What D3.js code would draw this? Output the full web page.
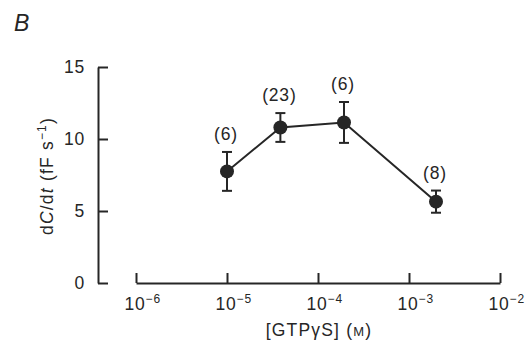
<!DOCTYPE html>
<html>
<head>
<meta charset="utf-8">
<script src="https://cdn.jsdelivr.net/npm/d3@7"></script>
<style>
  body { margin: 0; background: #fff; }
  svg { font-family: "Liberation Sans", Arial, Helvetica, sans-serif; }
</style>
</head>
<body>
<svg id="chart" width="528" height="344"></svg>
<script>
// GTPgS concentration (M) and mean dC/dt (fF/s) with SEM, n per point
const concentrations = [1e-5, 3.86e-5, 1.93e-4, 1.98e-3];
const rates = [7.75, 10.8, 11.15, 5.65];
const sems = [1.35, 1.0, 1.42, 0.77];
const nLabels = ["(6)", "(23)", "(6)", "(8)"];
const xTickValues = [1e-6, 1e-5, 1e-4, 1e-3, 1e-2];
const xTickExponents = ["−6", "−5", "−4", "−3", "−2"];
const yTickValues = [0, 5, 10, 15];

const ink = "#262626";
const fontSize = "17.5px";
const spacing = "0.8px";
const svg = d3.select("#chart");

// scales
const xScale = d3.scaleLog()
                 .domain([1e-6, 1e-2])
                 .range([136, 500]);
const yScale = d3.scaleLinear()
                 .domain([0, 15])
                 .range([283, 67]);

// Y axis (ticks pointing inward)
const yAxis = d3.axisLeft(yScale)
                .tickValues(yTickValues)
                .tickSizeInner(-10)
                .tickSizeOuter(0)
                .tickPadding(13)
                .tickFormat(d3.format("d"));
const yAxisG = svg.append("g")
                  .attr("transform", "translate(98,0)")
                  .call(yAxis);
yAxisG.select(".domain").attr("stroke", ink).attr("stroke-width", 2);
yAxisG.selectAll(".tick line").attr("stroke", ink).attr("stroke-width", 2);
yAxisG.selectAll(".tick text")
      .attr("fill", ink)
      .style("font-size", fontSize)
      .style("letter-spacing", spacing);

// X axis (detached, ticks pointing up)
const xAxis = d3.axisBottom(xScale)
                .tickValues(xTickValues)
                .tickSizeInner(-10)
                .tickSizeOuter(0)
                .tickFormat("");
const xAxisG = svg.append("g")
                  .attr("transform", "translate(0,283)")
                  .call(xAxis);
xAxisG.select(".domain").attr("stroke", ink).attr("stroke-width", 2);
xAxisG.selectAll(".tick line").attr("stroke", ink).attr("stroke-width", 2);

// tick labels as 10 with superscript exponent
xAxisG.selectAll(".tick").each(function(d, i) {
  const t = d3.select(this).select("text")
              .attr("y", 27)
              .attr("dy", 0)
              .attr("x", -12)
              .attr("text-anchor", "start")
              .attr("fill", ink)
              .style("font-size", fontSize)
              .style("letter-spacing", spacing);
  t.append("tspan").text("10");
  t.append("tspan")
   .attr("dy", -7)
   .style("font-size", "12px")
   .text(xTickExponents[i]);
});

// data
const data = concentrations.map(function(c, i) {
  return { x: c, y: rates[i], se: sems[i], n: nLabels[i] };
});

// connecting line
svg.append("path")
   .datum(data)
   .attr("fill", "none")
   .attr("stroke", ink)
   .attr("stroke-width", 2)
   .attr("d", d3.line()
                .x(function(d) { return xScale(d.x); })
                .y(function(d) { return yScale(d.y); }));

// error bars
const bars = svg.selectAll(".err")
                .data(data)
                .join("g")
                  .attr("class", "err")
                  .attr("stroke", ink)
                  .attr("stroke-width", 2);
bars.append("line")
    .attr("x1", function(d) { return xScale(d.x); })
    .attr("x2", function(d) { return xScale(d.x); })
    .attr("y1", function(d) { return yScale(d.y + d.se); })
    .attr("y2", function(d) { return yScale(d.y - d.se); });
bars.append("line")
    .attr("x1", function(d) { return xScale(d.x) - 5; })
    .attr("x2", function(d) { return xScale(d.x) + 5; })
    .attr("y1", function(d) { return yScale(d.y + d.se); })
    .attr("y2", function(d) { return yScale(d.y + d.se); });
bars.append("line")
    .attr("x1", function(d) { return xScale(d.x) - 5; })
    .attr("x2", function(d) { return xScale(d.x) + 5; })
    .attr("y1", function(d) { return yScale(d.y - d.se); })
    .attr("y2", function(d) { return yScale(d.y - d.se); });

// markers
svg.selectAll(".dot")
   .data(data)
   .join("circle")
     .attr("class", "dot")
     .attr("cx", function(d) { return xScale(d.x); })
     .attr("cy", function(d) { return yScale(d.y); })
     .attr("r", 7)
     .attr("fill", ink);

// n labels
svg.selectAll(".nlab")
   .data(data)
   .join("text")
     .attr("class", "nlab")
     .attr("x", function(d) { return xScale(d.x) - 1; })
     .attr("y", function(d) { return yScale(d.y + d.se) - 12; })
     .attr("text-anchor", "middle")
     .attr("fill", ink)
     .style("font-size", fontSize)
     .style("letter-spacing", spacing)
     .text(function(d) { return d.n; });

// panel letter
svg.append("text")
   .attr("x", 14)
   .attr("y", 31)
   .attr("fill", ink)
   .style("font-size", "23px")
   .style("font-style", "italic")
   .text("B");

// Y title
const yTitle = svg.append("text")
                  .attr("transform", "translate(53,176) rotate(-90)")
                  .attr("text-anchor", "middle")
                  .attr("fill", ink)
                  .style("font-size", fontSize)
                  .style("letter-spacing", "1.2px");
yTitle.append("tspan").text("d");
yTitle.append("tspan").style("font-style", "italic").text("C");
yTitle.append("tspan").text("/d");
yTitle.append("tspan").style("font-style", "italic").text("t");
yTitle.append("tspan").text(" (fF s");
yTitle.append("tspan").attr("dy", -7).style("font-size", "12px").text("−1");
yTitle.append("tspan").attr("dy", 7).text(")");

// X title
const xTitle = svg.append("text")
                  .attr("x", 319)
                  .attr("y", 336)
                  .attr("text-anchor", "middle")
                  .attr("fill", ink)
                  .style("font-size", fontSize)
                  .style("letter-spacing", "1.2px");
xTitle.append("tspan").text("[GTP");
xTitle.append("tspan").text("γ");
xTitle.append("tspan").text("S] (");
xTitle.append("tspan").style("font-size", "13px").text("M");
xTitle.append("tspan").text(")");
</script>
</body>
</html>
